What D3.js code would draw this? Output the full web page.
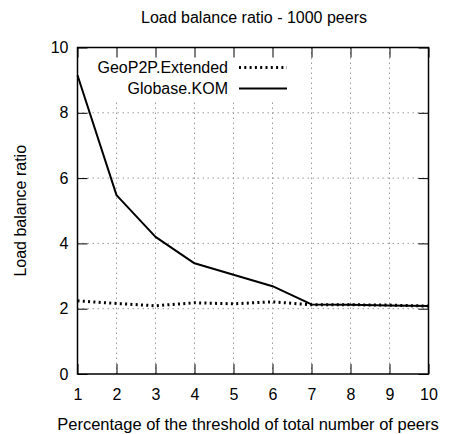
<!DOCTYPE html>
<html>
<head>
<meta charset="utf-8">
<script src="https://cdn.jsdelivr.net/npm/d3@7"></script>
<style>
  html, body { margin: 0; padding: 0; background: #fff; }
  svg { display: block; font-family: "Liberation Sans", Arial, sans-serif; }
</style>
</head>
<body>
<svg id="chart" width="449" height="434"></svg>
<script>
// Threshold percentages on the x axis
const thresholds = [1, 2, 3, 4, 5, 6, 7, 8, 9, 10];
// Load balance ratio per threshold
const geoP2PExtended = [2.24, 2.16, 2.09, 2.18, 2.15, 2.21, 2.12, 2.12, 2.11, 2.08];
const globaseKOM    = [9.15, 5.48, 4.20, 3.39, 3.04, 2.69, 2.13, 2.12, 2.10, 2.08];
const yTicks = [0, 2, 4, 6, 8, 10];
const seriesNames = ["GeoP2P.Extended", "Globase.KOM"];

const svg = d3.select("#chart");
const W = 449, H = 434;
const margin = { left: 77.5, right: W - 428.5, top: 47.5, bottom: H - 374 };
const x0 = margin.left, x1 = W - margin.right, y0 = H - margin.bottom, y1 = margin.top;

const x = d3.scaleLinear().domain([1, 10]).range([x0, x1]);
const y = d3.scaleLinear().domain([0, 10]).range([y0, y1]);

const fontSize = 16;

// Grid lines
const grid = svg.append("g").attr("stroke", "#9a9a9a").attr("stroke-width", 1)
  .attr("stroke-dasharray", "1.5,3.5").attr("fill", "none");
thresholds.slice(1, -1).forEach(t => {
  grid.append("line").attr("x1", x(t)).attr("x2", x(t)).attr("y1", y0).attr("y2", y1);
});
yTicks.slice(1, -1).forEach(v => {
  grid.append("line").attr("x1", x0).attr("x2", x1).attr("y1", y(v)).attr("y2", y(v));
});

// Legend background hides the grid beneath it
svg.append("rect").attr("x", x0 + 1).attr("y", y1 + 1).attr("width", 218).attr("height", 52).attr("fill", "#fff");

// Axes with inward ticks, mirrored on all four sides
const tickLen = 10;
const axisBottom = d3.axisBottom(x).tickValues(thresholds).tickSize(-tickLen).tickPadding(15).tickFormat(d3.format("d"));
const axisTop = d3.axisTop(x).tickValues(thresholds).tickSize(-tickLen).tickFormat("");
const axisLeft = d3.axisLeft(y).tickValues(yTicks).tickSize(-tickLen).tickPadding(9).tickFormat(d3.format("d"));
const axisRight = d3.axisRight(y).tickValues(yTicks).tickSize(-tickLen).tickFormat("");

function styleAxis(g) {
  g.select(".domain").remove();
  g.selectAll("line").attr("stroke", "#000").attr("stroke-width", 1);
  g.selectAll("text").attr("fill", "#000").style("font-size", fontSize + "px")
    .style("font-family", "'Liberation Sans', Arial, sans-serif");
}
svg.append("g").attr("transform", `translate(0,${y0})`).call(axisBottom).call(styleAxis);
svg.append("g").attr("transform", `translate(0,${y1})`).call(axisTop).call(styleAxis);
svg.append("g").attr("transform", `translate(${x0},0)`).call(axisLeft).call(styleAxis);
svg.append("g").attr("transform", `translate(${x1},0)`).call(axisRight).call(styleAxis);

// Plot frame
svg.append("rect").attr("x", x0).attr("y", y1).attr("width", x1 - x0).attr("height", y0 - y1)
  .attr("fill", "none").attr("stroke", "#000").attr("stroke-width", 1.5);

// Series lines
const line = d3.line().x((d, i) => x(thresholds[i])).y(d => y(d));
svg.append("path").datum(geoP2PExtended).attr("d", line).attr("fill", "none")
  .attr("stroke", "#000").attr("stroke-width", 3).attr("stroke-dasharray", "2,3.3");
svg.append("path").datum(globaseKOM).attr("d", line).attr("fill", "none")
  .attr("stroke", "#000").attr("stroke-width", 2).attr("stroke-linejoin", "round");

// Legend
const legend = svg.append("g");
const legY = [67.5, 88.5];
const styles = [
  { w: 3, dash: "2,3.3" },
  { w: 2, dash: null }
];
seriesNames.forEach((name, i) => {
  legend.append("text").attr("x", 228).attr("y", legY[i]).attr("dy", "0.35em")
    .attr("text-anchor", "end").style("font-size", fontSize + "px").text(name);
  const l = legend.append("line").attr("x1", 239).attr("x2", 287).attr("y1", legY[i]).attr("y2", legY[i])
    .attr("stroke", "#000").attr("stroke-width", styles[i].w);
  if (styles[i].dash) l.attr("stroke-dasharray", styles[i].dash);
});

// Titles
svg.append("text").attr("x", 254).attr("y", 23).attr("text-anchor", "middle")
  .style("font-size", fontSize + "px").text("Load balance ratio - 1000 peers");
svg.append("text").attr("x", 248).attr("y", 430).attr("text-anchor", "middle")
  .style("font-size", (fontSize + 0.5) + "px").text("Percentage of the threshold of total number of peers");
svg.append("text").attr("transform", `translate(26,${(y0 + y1) / 2}) rotate(-90)`)
  .attr("text-anchor", "middle").style("font-size", fontSize + "px").text("Load balance ratio");
</script>
</body>
</html>
